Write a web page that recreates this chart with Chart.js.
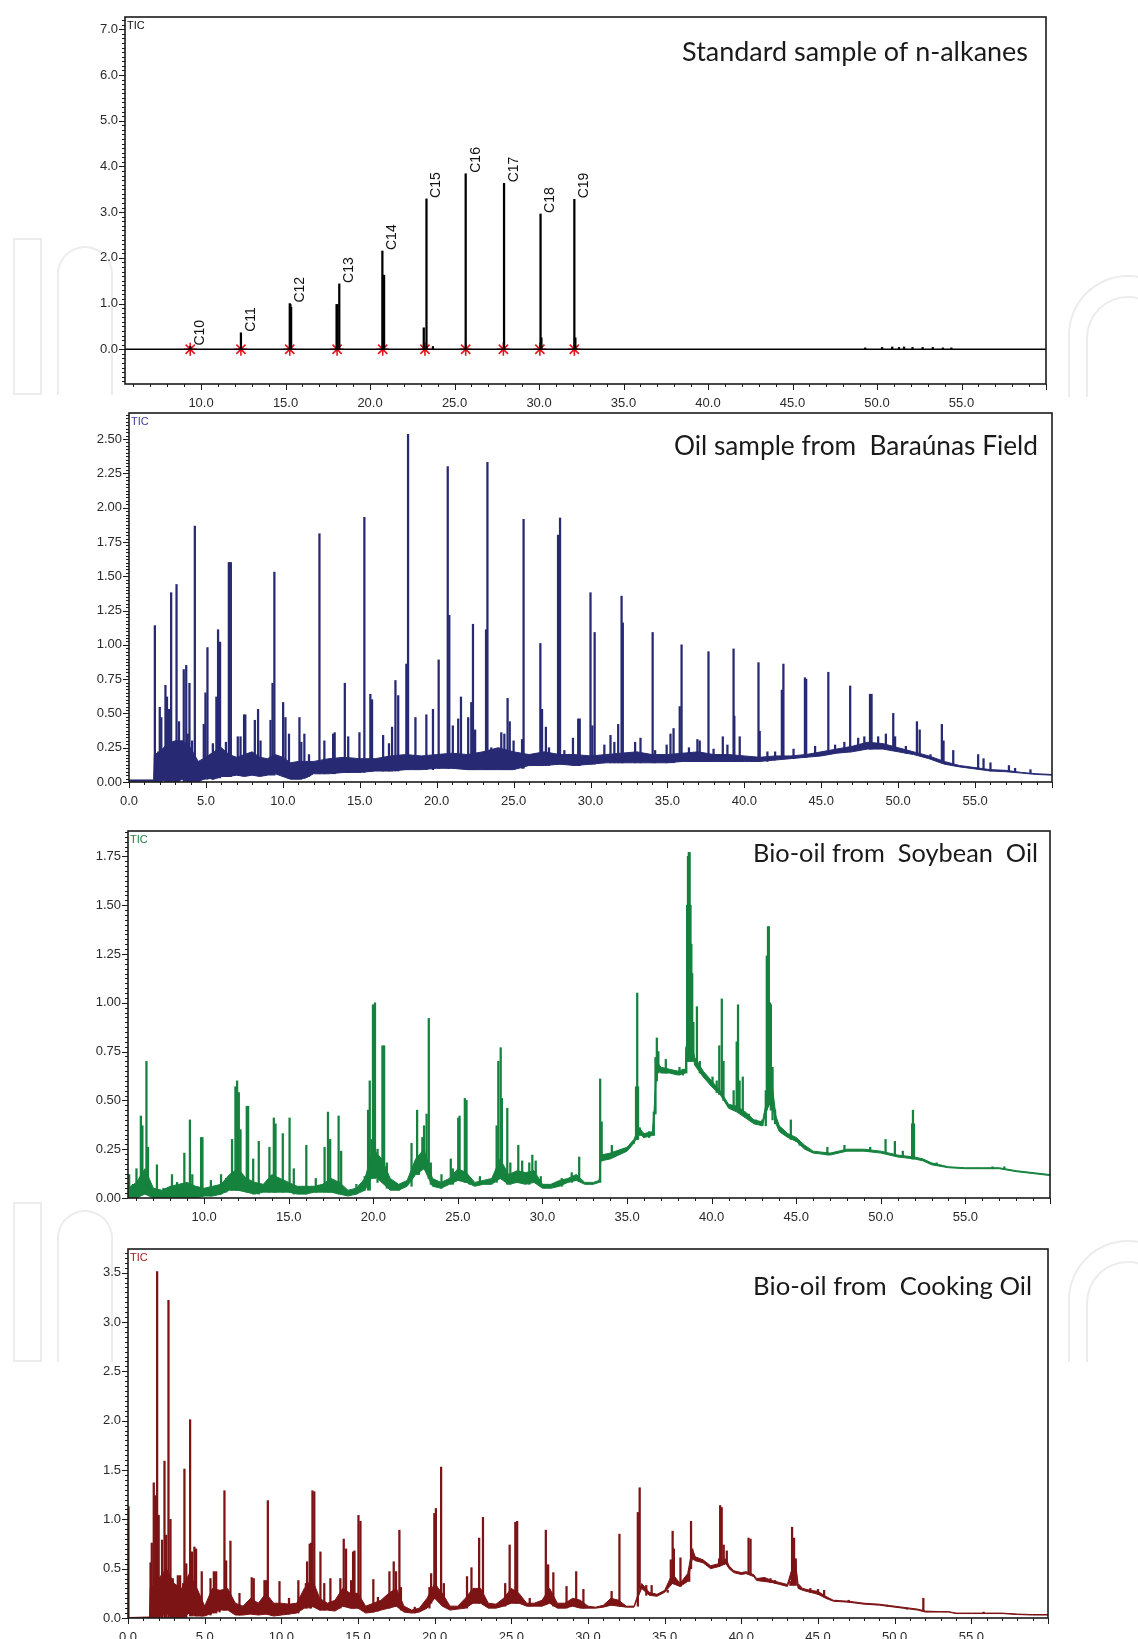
<!DOCTYPE html>
<html>
<head>
<meta charset="utf-8">
<title>TIC chromatograms</title>
<script src="https://cdn.jsdelivr.net/npm/chart.js@4.4.1/dist/chart.umd.min.js"></script>
<style>
  html, body { margin: 0; padding: 0; background: #fff; }
  #page { position: relative; width: 1138px; height: 1639px; overflow: hidden; }
  #page canvas { position: absolute; left: 0; }
  .wm { position: absolute; border: 2px solid #ececec; box-sizing: border-box; }
  .wm.arch { border-bottom: none; }
</style>
</head>
<body>
<div id="page">
  <!-- marca de agua de fondo -->
  <div class="wm" style="left:13px;top:238px;width:29px;height:157px"></div>
  <div class="wm arch" style="left:57px;top:246px;width:56px;height:149px;border-radius:28px 28px 0 0"></div>
  <div class="wm arch" style="left:1068px;top:275px;width:120px;height:122px;border-radius:60px 60px 0 0"></div>
  <div class="wm arch" style="left:1086px;top:296px;width:84px;height:101px;border-radius:42px 42px 0 0"></div>
  <div class="wm" style="left:13px;top:1202px;width:29px;height:160px"></div>
  <div class="wm arch" style="left:57px;top:1210px;width:56px;height:152px;border-radius:28px 28px 0 0"></div>
  <div class="wm arch" style="left:1068px;top:1240px;width:120px;height:122px;border-radius:60px 60px 0 0"></div>
  <div class="wm arch" style="left:1086px;top:1261px;width:84px;height:101px;border-radius:42px 42px 0 0"></div>

  <canvas id="alkanes"></canvas>
  <canvas id="baraunas"></canvas>
  <canvas id="soybean"></canvas>
  <canvas id="cooking"></canvas>
</div>
<script>
// TIC chromatograms (retention time in min, intensity)

// --- Standard sample of n-alkanes ---
const alkaneNames   = ['C10', 'C11', 'C12', 'C13', 'C14', 'C15', 'C16', 'C17', 'C18', 'C19'];
const alkaneTimes   = [9.36, 12.36, 15.25, 18.18, 20.73, 23.34, 25.66, 27.93, 30.09, 32.09];
const alkaneHeights = [0.06, 0.36, 1.0, 1.43, 2.15, 3.29, 3.84, 3.63, 2.96, 3.28];
const alkaneStars   = [9.36, 12.36, 15.25, 18.05, 20.75, 23.25, 25.66, 27.89, 30.05, 32.09];
// [t, top] shoulders and small noise
const alkaneMinor = [[15.29, 0.98], [15.33, 0.92], [18.02, 0.98], [18.07, 0.98], [20.79, 1.62], [20.83, 1.62],
  [23.18, 0.47], [23.72, 0.06], [30.14, 0.25], [32.15, 0.25],
  [49.3, 0.03], [50.3, 0.04], [50.9, 0.05], [51.3, 0.04], [51.6, 0.05], [52.1, 0.04], [52.7, 0.04], [53.3, 0.04], [53.9, 0.03], [54.4, 0.03]];
const alkaneBaseline = [[5.5, 0], [60, 0]];

// --- Oil sample from Baraúnas Field: [t, lower, upper] band and [t, top, foot] peaks ---
const baraunasBand = [
  [0, 0.005, 0.015], [1.6, 0.005, 0.015], [1.65, 0, 0.2], [2.0, 0, 0.22], [2.5, 0.02, 0.28], [3.0, 0, 0.3], [3.5, 0.02, 0.3],
  [4.0, 0, 0.25], [4.5, 0, 0.15], [5.0, 0.03, 0.18], [5.5, 0.02, 0.22], [6.0, 0.04, 0.25], [6.5, 0.04, 0.2], [7.0, 0.05, 0.18],
  [7.5, 0.04, 0.2], [8.0, 0.05, 0.22], [8.5, 0.04, 0.18], [9.0, 0.05, 0.17], [9.5, 0.06, 0.2], [10.0, 0.04, 0.18],
  [10.5, 0.02, 0.14], [11.0, 0.02, 0.15], [11.5, 0.03, 0.15], [12.0, 0.06, 0.15], [13.0, 0.06, 0.17], [14.0, 0.07, 0.18],
  [15.0, 0.07, 0.17], [16.0, 0.08, 0.17], [17.0, 0.08, 0.19], [18.0, 0.09, 0.2], [19.0, 0.09, 0.19], [20.0, 0.1, 0.2],
  [21.0, 0.1, 0.21], [22.0, 0.09, 0.2], [23.0, 0.09, 0.22], [24.0, 0.09, 0.25], [25.0, 0.09, 0.22], [26.0, 0.12, 0.2],
  [27.0, 0.12, 0.22], [28.0, 0.13, 0.2], [29.0, 0.12, 0.2], [30.0, 0.13, 0.19], [31.0, 0.14, 0.2], [32.0, 0.14, 0.21],
  [33.0, 0.14, 0.22], [34.0, 0.14, 0.2], [35.0, 0.14, 0.2], [36.0, 0.15, 0.21], [37.0, 0.15, 0.22], [38.0, 0.15, 0.2],
  [39.0, 0.15, 0.2], [40.0, 0.15, 0.19], [41.0, 0.15, 0.18], [42.0, 0.16, 0.19], [43.0, 0.17, 0.19], [44.0, 0.18, 0.2],
  [45.0, 0.19, 0.22], [46.0, 0.21, 0.24], [47.0, 0.22, 0.26], [48.0, 0.24, 0.29], [49.0, 0.24, 0.28], [50.0, 0.22, 0.25],
  [51.0, 0.2, 0.22], [52.0, 0.17, 0.19], [53.0, 0.13, 0.15], [54.0, 0.11, 0.12], [55.0, 0.095, 0.105], [56.0, 0.08, 0.09],
  [57.0, 0.075, 0.085], [58.0, 0.065, 0.07], [59.0, 0.055, 0.06], [60.0, 0.05, 0.055]
];
const baraunasPeaks = [
  [1.68, 1.14, 0], [1.78, 0.2, 0], [1.9, 0.22, 0], [2.0, 0.545, 0], [2.1, 0.47, 0], [2.37, 0.705, 0], [2.47, 0.62, 0],
  [2.6, 0.53, 0], [2.74, 1.38, 0], [3.09, 1.44, 0], [3.25, 0.44, 0], [3.56, 0.82, 0], [3.72, 0.85, 0], [3.82, 0.35, 0],
  [3.93, 0.72, 0], [4.1, 0.3, 0], [4.28, 1.865, 0], [4.86, 0.42, 0.02], [4.97, 0.65, 0.02], [5.1, 0.98, 0.02],
  [5.45, 0.28, 0.02], [5.68, 0.62, 0.03], [5.79, 1.11, 0.03], [5.92, 1.02, 0.03], [6.3, 0.29, 0.04], [6.49, 1.6, 0.04],
  [6.55, 1.6, 0.04], [6.62, 1.6, 0.04], [7.07, 0.33, 0.05], [7.25, 0.33, 0.05], [7.48, 0.49, 0.05], [7.56, 0.49, 0.05],
  [8.18, 0.45, 0.05], [8.39, 0.53, 0.05], [8.55, 0.3, 0.05], [9.2, 0.45, 0.05], [9.33, 0.72, 0.05], [9.45, 1.53, 0.05],
  [10.02, 0.58, 0.04], [10.17, 0.47, 0.04], [10.4, 0.35, 0.03], [11.08, 0.47, 0.02], [11.2, 0.29, 0.02], [11.4, 0.35, 0.03],
  [11.7, 0.2, 0.04], [12.38, 1.81, 0.06], [12.7, 0.3, 0.06], [13.27, 0.35, 0.06], [13.37, 0.36, 0.06], [14.03, 0.72, 0.07],
  [14.25, 0.33, 0.07], [14.98, 0.36, 0.07], [15.3, 1.93, 0.07], [15.69, 0.64, 0.08], [15.8, 0.6, 0.08], [16.52, 0.34, 0.08],
  [16.9, 0.28, 0.08], [17.1, 0.4, 0.08], [17.32, 0.74, 0.08], [17.5, 0.63, 0.08], [18.03, 0.86, 0.09], [18.14, 2.535, 0.09],
  [18.62, 0.47, 0.09], [19.33, 0.49, 0.09], [19.76, 0.53, 0.09], [20.13, 0.89, 0.1], [20.72, 2.3, 0.1], [20.82, 1.215, 0.1],
  [21.05, 0.41, 0.1], [21.4, 0.46, 0.1], [21.58, 0.62, 0.1], [22.05, 0.47, 0.09], [22.25, 0.58, 0.09], [22.36, 1.15, 0.09],
  [22.5, 0.38, 0.09], [23.21, 1.11, 0.09], [23.3, 2.33, 0.09], [23.55, 0.25, 0.09], [24.2, 0.36, 0.09], [24.4, 0.35, 0.09],
  [24.61, 0.61, 0.09], [24.75, 0.44, 0.09], [25.0, 0.3, 0.1], [25.55, 0.31, 0.1], [25.65, 1.915, 0.1], [26.74, 1.01, 0.12],
  [26.85, 0.53, 0.12], [27.1, 0.4, 0.12], [27.3, 0.25, 0.12], [27.89, 1.8, 0.13], [28.02, 1.925, 0.13], [28.3, 0.23, 0.13],
  [28.86, 0.32, 0.12], [29.2, 0.46, 0.12], [29.3, 0.46, 0.12], [30.0, 1.38, 0.13], [30.12, 0.41, 0.13], [30.27, 1.09, 0.13],
  [30.9, 0.27, 0.14], [31.3, 0.34, 0.14], [31.55, 0.29, 0.14], [31.8, 0.42, 0.14], [32.02, 1.355, 0.14], [32.1, 1.16, 0.14],
  [32.9, 0.29, 0.14], [33.25, 0.32, 0.14], [34.04, 1.09, 0.14], [34.2, 0.23, 0.14], [34.95, 0.27, 0.14], [35.2, 0.35, 0.14],
  [35.4, 0.39, 0.14], [35.8, 0.55, 0.15], [35.92, 1.0, 0.15], [36.4, 0.25, 0.15], [36.95, 0.31, 0.15], [37.1, 0.3, 0.15],
  [37.67, 0.95, 0.15], [38.0, 0.24, 0.15], [38.6, 0.33, 0.15], [38.9, 0.27, 0.15], [39.3, 0.97, 0.15], [39.35, 0.48, 0.15],
  [39.7, 0.33, 0.15], [40.92, 0.87, 0.15], [41.0, 0.37, 0.15], [41.5, 0.22, 0.15], [42.0, 0.22, 0.16], [42.44, 0.67, 0.17],
  [42.54, 0.86, 0.17], [43.2, 0.24, 0.17], [43.94, 0.76, 0.18], [44.02, 0.75, 0.18], [44.6, 0.26, 0.19], [45.46, 0.8, 0.2],
  [45.9, 0.27, 0.21], [46.5, 0.29, 0.22], [46.88, 0.7, 0.22], [47.4, 0.32, 0.23], [47.8, 0.33, 0.24], [48.17, 0.64, 0.24],
  [48.27, 0.64, 0.24], [48.7, 0.33, 0.25], [49.2, 0.35, 0.24], [49.68, 0.5, 0.23], [49.8, 0.33, 0.23], [50.5, 0.26, 0.21],
  [51.22, 0.44, 0.2], [51.4, 0.38, 0.2], [52.1, 0.2, 0.17], [52.84, 0.42, 0.14], [52.95, 0.3, 0.14], [53.58, 0.23, 0.12],
  [55.2, 0.2, 0.095], [55.55, 0.17, 0.09], [56.0, 0.14, 0.08], [57.2, 0.12, 0.075], [57.6, 0.1, 0.07], [58.6, 0.09, 0.06]
];

// --- Bio-oil from Soybean Oil ---
const soyBand = [
  [5.5, 0, 0.05], [6.0, 0, 0.08], [6.5, 0.02, 0.15], [7.0, 0, 0.05], [7.5, 0, 0.04], [8.0, 0, 0.06], [8.5, 0, 0.07],
  [9.0, 0, 0.08], [9.5, 0, 0.06], [10.0, 0.01, 0.05], [10.5, 0.01, 0.06], [11.0, 0.02, 0.07], [11.5, 0.04, 0.12],
  [12.0, 0.04, 0.15], [12.5, 0.03, 0.1], [13.0, 0.02, 0.08], [13.5, 0.03, 0.07], [14.0, 0.03, 0.12], [14.5, 0.03, 0.1],
  [15.0, 0.03, 0.08], [15.5, 0.02, 0.06], [16.0, 0.02, 0.06], [16.5, 0.03, 0.06], [17.0, 0.03, 0.07], [17.5, 0.03, 0.1],
  [18.0, 0.02, 0.08], [18.5, 0.01, 0.04], [19.0, 0.02, 0.05], [19.5, 0.04, 0.1], [20.0, 0.12, 0.25], [20.5, 0.08, 0.2],
  [21.0, 0.04, 0.1], [21.5, 0.04, 0.07], [22.0, 0.06, 0.09], [22.5, 0.12, 0.2], [23.0, 0.15, 0.25], [23.5, 0.06, 0.1],
  [24.0, 0.05, 0.08], [24.5, 0.07, 0.1], [25.0, 0.09, 0.15], [25.5, 0.08, 0.13], [26.0, 0.06, 0.08], [26.5, 0.07, 0.09],
  [27.0, 0.07, 0.1], [27.5, 0.1, 0.2], [28.0, 0.07, 0.12], [28.5, 0.08, 0.14], [29.0, 0.07, 0.13], [29.5, 0.08, 0.14],
  [30.0, 0.05, 0.07], [30.5, 0.05, 0.07], [31.0, 0.06, 0.09], [31.5, 0.08, 0.1], [32.0, 0.09, 0.12], [32.5, 0.07, 0.08],
  [33.0, 0.07, 0.08], [33.35, 0.08, 0.09], [33.45, 0.19, 0.22], [34.0, 0.2, 0.23], [35.0, 0.24, 0.26], [35.4, 0.28, 0.3],
  [35.7, 0.33, 0.36], [36.0, 0.31, 0.33], [36.5, 0.32, 0.34], [36.6, 0.43, 0.45], [36.75, 0.66, 0.7], [37.0, 0.64, 0.67],
  [37.5, 0.64, 0.66], [38.0, 0.63, 0.65], [38.45, 0.64, 0.66], [38.5, 0.75, 0.78], [38.95, 0.7, 0.74], [39.0, 0.68, 0.72],
  [39.5, 0.62, 0.65], [40.0, 0.57, 0.6], [40.5, 0.53, 0.55], [41.0, 0.46, 0.48], [41.5, 0.44, 0.47], [42.0, 0.41, 0.44],
  [42.5, 0.38, 0.4], [43.0, 0.37, 0.39], [43.25, 0.45, 0.5], [43.55, 0.5, 0.6], [43.8, 0.38, 0.42], [44.0, 0.34, 0.37],
  [44.5, 0.31, 0.33], [45.0, 0.29, 0.31], [45.5, 0.25, 0.27], [46.0, 0.23, 0.24], [47.0, 0.22, 0.23], [48.0, 0.24, 0.25],
  [49.0, 0.24, 0.25], [50.0, 0.23, 0.24], [51.0, 0.21, 0.22], [52.0, 0.2, 0.21], [52.5, 0.19, 0.2], [53.0, 0.17, 0.18],
  [54.0, 0.155, 0.16], [55.0, 0.15, 0.155], [56.0, 0.15, 0.155], [57.0, 0.15, 0.155], [58.0, 0.135, 0.14],
  [59.0, 0.125, 0.13], [60.0, 0.115, 0.12]
];
const soyPeaks = [
  [5.57, 0.12, 0], [5.8, 0.07, 0], [6.0, 0.15, 0], [6.26, 0.42, 0.02], [6.35, 0.37, 0.02], [6.59, 0.7, 0.02], [6.68, 0.26, 0.02],
  [7.21, 0.17, 0], [7.6, 0.05, 0], [8.1, 0.12, 0], [8.4, 0.08, 0], [8.83, 0.23, 0], [9.16, 0.4, 0], [9.3, 0.12, 0],
  [9.82, 0.31, 0.01], [9.9, 0.31, 0.01], [10.4, 0.09, 0.01], [11.0, 0.12, 0.02], [11.3, 0.1, 0.03], [11.65, 0.3, 0.04],
  [11.85, 0.57, 0.04], [11.95, 0.6, 0.04], [12.05, 0.54, 0.04], [12.15, 0.35, 0.04], [12.52, 0.47, 0.03], [12.6, 0.47, 0.03],
  [12.9, 0.2, 0.02], [13.23, 0.29, 0.02], [13.86, 0.26, 0.03], [14.12, 0.41, 0.03], [14.22, 0.38, 0.03], [14.65, 0.33, 0.03],
  [15.05, 0.41, 0.03], [15.3, 0.15, 0.02], [16.04, 0.27, 0.02], [16.6, 0.1, 0.03], [17.12, 0.26, 0.03], [17.32, 0.44, 0.03],
  [17.45, 0.3, 0.03], [17.95, 0.42, 0.02], [18.1, 0.24, 0.02], [19.0, 0.07, 0.02], [19.49, 0.11, 0.04], [19.69, 0.45, 0.04],
  [19.79, 0.6, 0.04], [19.9, 0.3, 0.1], [19.98, 0.99, 0.1], [20.1, 1.0, 0.1], [20.25, 0.25, 0.08], [20.54, 0.78, 0.08],
  [20.64, 0.78, 0.08], [20.8, 0.18, 0.05], [21.5, 0.07, 0.04], [22.26, 0.28, 0.06], [22.59, 0.45, 0.12], [22.7, 0.2, 0.12],
  [22.9, 0.31, 0.15], [23.0, 0.37, 0.15], [23.15, 0.43, 0.15], [23.28, 0.92, 0.1], [23.4, 0.18, 0.07], [24.03, 0.12, 0.05],
  [24.58, 0.2, 0.07], [24.7, 0.15, 0.07], [25.02, 0.41, 0.09], [25.1, 0.42, 0.09], [25.41, 0.51, 0.08], [25.51, 0.5, 0.08],
  [25.7, 0.1, 0.07], [26.3, 0.11, 0.07], [27.29, 0.37, 0.08], [27.39, 0.7, 0.1], [27.53, 0.77, 0.1], [27.6, 0.51, 0.1],
  [27.92, 0.46, 0.07], [28.1, 0.18, 0.07], [28.57, 0.27, 0.08], [28.8, 0.19, 0.08], [29.22, 0.18, 0.07], [29.4, 0.22, 0.08],
  [29.6, 0.19, 0.08], [29.9, 0.11, 0.06], [31.14, 0.1, 0.06], [31.73, 0.13, 0.08], [32.17, 0.21, 0.09], [33.41, 0.61, 0.08],
  [33.5, 0.39, 0.19], [33.8, 0.22, 0.2], [34.1, 0.27, 0.21], [35.4, 0.29, 0.28], [35.53, 0.57, 0.3], [35.6, 1.05, 0.3],
  [35.65, 0.57, 0.3], [35.75, 0.36, 0.32], [36.0, 0.33, 0.31], [36.3, 0.34, 0.31], [36.58, 0.44, 0.32], [36.68, 0.72, 0.43],
  [36.76, 0.82, 0.6], [36.85, 0.75, 0.64], [37.29, 0.71, 0.64], [38.1, 0.67, 0.63], [38.3, 0.66, 0.63], [38.5, 0.77, 0.64],
  [38.55, 1.5, 0.7], [38.6, 1.75, 0.7], [38.65, 1.77, 0.7], [38.7, 1.77, 0.7], [38.75, 1.5, 0.7], [38.8, 1.3, 0.7],
  [38.85, 1.15, 0.7], [38.92, 0.9, 0.7], [39.13, 0.98, 0.68], [39.3, 0.7, 0.64], [40.05, 0.62, 0.57], [40.3, 0.6, 0.54],
  [40.45, 0.78, 0.53], [40.6, 1.02, 0.53], [40.7, 0.7, 0.5], [41.3, 0.55, 0.46], [41.48, 0.8, 0.45], [41.56, 0.99, 0.45],
  [41.65, 0.6, 0.44], [41.84, 0.62, 0.43], [42.2, 0.43, 0.41], [42.6, 0.4, 0.38], [43.0, 0.4, 0.37], [43.2, 0.55, 0.37],
  [43.26, 1.24, 0.45], [43.33, 1.39, 0.5], [43.38, 1.39, 0.5], [43.45, 1.0, 0.5], [43.5, 0.99, 0.45], [43.6, 0.67, 0.4],
  [43.75, 0.45, 0.38], [44.68, 0.4, 0.3], [45.0, 0.3, 0.29], [45.2, 0.28, 0.27], [46.84, 0.26, 0.22], [47.85, 0.27, 0.24],
  [49.37, 0.26, 0.24], [50.28, 0.3, 0.23], [50.83, 0.29, 0.22], [51.3, 0.24, 0.21], [51.85, 0.38, 0.2], [51.9, 0.45, 0.2],
  [51.96, 0.38, 0.2], [53.3, 0.18, 0.17], [56.6, 0.16, 0.15], [57.3, 0.16, 0.15]
];

// --- Bio-oil from Cooking Oil ---
const cookingBand = [
  [0, 0, 0.005], [0.1, 0, 0.005], [1.4, 0, 0.01], [1.45, 0, 0.3], [2.0, 0, 0.4], [2.5, 0.05, 0.5], [3.0, 0, 0.35],
  [3.5, 0, 0.3], [4.0, 0.05, 0.45], [4.5, 0.02, 0.3], [5.0, 0.02, 0.12], [5.5, 0.05, 0.3], [6.0, 0.08, 0.28], [6.5, 0.08, 0.3],
  [7.0, 0.03, 0.15], [7.5, 0.03, 0.12], [8.0, 0.04, 0.2], [8.5, 0.03, 0.15], [9.0, 0.04, 0.25], [9.5, 0.02, 0.15],
  [10.0, 0.03, 0.15], [10.5, 0.04, 0.14], [11.0, 0.05, 0.15], [11.5, 0.1, 0.3], [12.0, 0.12, 0.4], [12.5, 0.08, 0.2],
  [13.0, 0.08, 0.15], [13.5, 0.07, 0.18], [14.0, 0.12, 0.3], [14.5, 0.1, 0.25], [15.0, 0.1, 0.25], [15.5, 0.05, 0.12],
  [16.0, 0.06, 0.15], [16.5, 0.08, 0.18], [17.0, 0.1, 0.25], [17.5, 0.12, 0.3], [18.0, 0.06, 0.12], [18.5, 0.05, 0.08],
  [19.0, 0.06, 0.1], [19.5, 0.1, 0.2], [20.0, 0.2, 0.35], [20.5, 0.12, 0.25], [21.0, 0.08, 0.12], [21.5, 0.09, 0.12],
  [22.0, 0.1, 0.2], [22.5, 0.15, 0.3], [23.0, 0.15, 0.3], [23.5, 0.1, 0.15], [24.0, 0.1, 0.14], [24.5, 0.12, 0.2],
  [25.0, 0.15, 0.3], [25.5, 0.15, 0.25], [26.0, 0.12, 0.15], [26.5, 0.12, 0.15], [27.0, 0.12, 0.18], [27.5, 0.15, 0.3],
  [28.0, 0.1, 0.15], [28.5, 0.1, 0.15], [29.0, 0.12, 0.2], [29.5, 0.1, 0.18], [30.0, 0.1, 0.12], [30.5, 0.1, 0.11],
  [31.0, 0.11, 0.13], [31.5, 0.13, 0.2], [32.0, 0.12, 0.18], [32.5, 0.11, 0.12], [33.0, 0.11, 0.12], [33.5, 0.3, 0.35],
  [34.0, 0.23, 0.26], [34.5, 0.22, 0.24], [35.0, 0.26, 0.28], [35.5, 0.35, 0.45], [36.0, 0.32, 0.35], [36.5, 0.37, 0.45],
  [36.8, 0.6, 0.7], [37.0, 0.58, 0.62], [37.5, 0.56, 0.59], [38.0, 0.5, 0.53], [38.5, 0.52, 0.55], [39.0, 0.55, 0.6],
  [39.2, 0.5, 0.53], [39.5, 0.46, 0.48], [40.0, 0.44, 0.46], [40.3, 0.45, 0.47], [40.8, 0.42, 0.44], [41.0, 0.38, 0.4],
  [41.5, 0.37, 0.41], [42.0, 0.36, 0.38], [42.5, 0.34, 0.36], [43.0, 0.32, 0.34], [43.5, 0.5, 0.6], [43.7, 0.3, 0.35],
  [44.0, 0.28, 0.3], [44.5, 0.26, 0.28], [45.0, 0.24, 0.27], [45.5, 0.2, 0.22], [46.0, 0.17, 0.18], [47.0, 0.16, 0.17],
  [48.0, 0.14, 0.15], [49.0, 0.13, 0.14], [50.0, 0.11, 0.12], [51.0, 0.09, 0.1], [51.5, 0.08, 0.09], [52.0, 0.06, 0.07],
  [53.0, 0.06, 0.065], [53.5, 0.06, 0.065], [54.0, 0.045, 0.05], [55.0, 0.045, 0.05], [56.0, 0.045, 0.05],
  [57.0, 0.045, 0.05], [58.0, 0.035, 0.04], [59.0, 0.03, 0.035], [60.0, 0.03, 0.035]
];
const cookingPeaks = [
  [0.03, 1.13, 0], [1.47, 0.56, 0], [1.55, 0.76, 0], [1.68, 1.37, 0], [1.78, 1.24, 0], [1.9, 3.51, 0], [2.0, 1.04, 0],
  [2.22, 0.79, 0], [2.38, 1.59, 0], [2.49, 0.84, 0], [2.64, 3.22, 0], [2.77, 1.0, 0], [2.92, 0.4, 0], [3.25, 0.43, 0],
  [3.4, 0.43, 0], [3.6, 0.35, 0], [3.68, 1.51, 0], [3.8, 0.55, 0], [4.05, 2.01, 0.02], [4.18, 0.67, 0.02], [4.33, 0.72, 0.02],
  [4.44, 0.7, 0.02], [4.81, 0.47, 0.02], [5.38, 0.4, 0.03], [5.6, 0.47, 0.05], [5.75, 0.47, 0.05], [5.97, 0.28, 0.06],
  [6.29, 1.29, 0.08], [6.4, 0.58, 0.08], [6.68, 0.78, 0.08], [7.27, 0.25, 0.03], [8.07, 0.41, 0.04], [8.2, 0.4, 0.04],
  [8.9, 0.38, 0.04], [9.0, 0.38, 0.04], [9.12, 1.19, 0.04], [9.88, 0.37, 0.03], [10.5, 0.2, 0.04], [11.11, 0.38, 0.05],
  [11.6, 0.35, 0.1], [11.68, 0.57, 0.1], [11.85, 0.75, 0.1], [11.94, 0.76, 0.1], [12.03, 1.29, 0.12], [12.15, 1.28, 0.12],
  [12.55, 0.67, 0.08], [12.8, 0.35, 0.08], [13.2, 0.4, 0.08], [13.85, 0.4, 0.1], [14.07, 0.8, 0.12], [14.22, 0.7, 0.12],
  [14.55, 0.38, 0.1], [14.68, 0.67, 0.1], [14.77, 0.68, 0.1], [15.03, 1.04, 0.1], [15.16, 0.98, 0.1], [16.0, 0.39, 0.06],
  [16.3, 0.21, 0.07], [17.05, 0.47, 0.1], [17.33, 0.57, 0.12], [17.48, 0.47, 0.12], [17.7, 0.89, 0.12], [17.8, 0.31, 0.08],
  [18.7, 0.11, 0.05], [19.66, 0.31, 0.1], [19.77, 0.45, 0.15], [19.98, 1.06, 0.2], [20.08, 1.11, 0.2], [20.42, 1.53, 0.15],
  [20.6, 0.35, 0.12], [22.11, 0.42, 0.1], [22.4, 0.51, 0.15], [22.9, 0.81, 0.15], [23.15, 1.02, 0.15], [24.6, 0.35, 0.12],
  [24.89, 0.74, 0.15], [25.26, 0.97, 0.15], [25.38, 0.98, 0.15], [26.2, 0.2, 0.12], [27.25, 0.89, 0.15], [27.4, 0.54, 0.15],
  [27.74, 0.46, 0.12], [28.6, 0.32, 0.1], [29.23, 0.47, 0.12], [29.7, 0.29, 0.1], [31.54, 0.27, 0.13], [32.05, 0.85, 0.12],
  [33.25, 1.07, 0.12], [33.37, 1.32, 0.3], [33.8, 0.33, 0.23], [34.15, 0.33, 0.23], [35.2, 0.28, 0.26], [35.4, 0.59, 0.35],
  [35.52, 0.88, 0.35], [35.6, 0.7, 0.35], [36.03, 0.61, 0.32], [36.6, 0.5, 0.37], [36.72, 0.98, 0.5], [36.8, 0.7, 0.6],
  [38.55, 0.6, 0.52], [38.62, 1.14, 0.55], [38.72, 1.12, 0.55], [38.85, 0.74, 0.55], [39.05, 0.68, 0.55], [40.47, 0.81, 0.45],
  [40.6, 0.8, 0.45], [41.5, 0.41, 0.37], [41.9, 0.4, 0.36], [42.2, 0.38, 0.35], [43.2, 0.37, 0.33], [43.31, 0.92, 0.33],
  [43.44, 0.81, 0.33], [43.55, 0.6, 0.33], [44.5, 0.3, 0.26], [45.0, 0.29, 0.24], [45.4, 0.28, 0.22], [46.2, 0.18, 0.17],
  [47.0, 0.18, 0.16], [49.5, 0.13, 0.12], [50.8, 0.1, 0.09], [51.87, 0.2, 0.07], [55.8, 0.06, 0.045]
];

// ---------------------------------------------------------------------------

const TICK_FONT = '"Liberation Sans", Arial, sans-serif';
const PAD_TOP = 16;
const AXIS_H = 40;

// marcos, marcas de eje, títulos y etiquetas
const decoPlugin = {
    id: 'deco',
    afterDraw(chart, args, o) {
        const { ctx, chartArea: a, scales: { x, y } } = chart;
        ctx.save();
        ctx.strokeStyle = '#1b1b1b';
        ctx.lineWidth = 1;
        drawTicks(ctx, y, o.yMinor, o.yMajor, false, a);
        drawTicks(ctx, x, 1, 5, true, a);
        ctx.lineWidth = 1.6;
        ctx.strokeRect(a.left, a.top, a.right - a.left, a.bottom - a.top);

        ctx.font = '11px ' + TICK_FONT;
        ctx.fillStyle = o.ticColor;
        ctx.textAlign = 'left';
        ctx.textBaseline = 'top';
        ctx.fillText('TIC', a.left + 2, a.top + 3);

        // título ajustado al ancho de la figura original
        let size = 24;
        ctx.font = size + 'px Lato, "Open Sans", sans-serif';
        size = size * o.titleWidth / ctx.measureText(o.title).width;
        ctx.font = size.toFixed(2) + 'px Lato, "Open Sans", sans-serif';
        ctx.fillStyle = '#1a1a1a';
        ctx.textAlign = 'right';
        ctx.textBaseline = 'middle';
        ctx.fillText(o.title, a.right - o.titleRight, a.top + o.titleY);

        if (o.peakLabels) {
            const pl = o.peakLabels;
            ctx.font = '14px ' + TICK_FONT;
            ctx.fillStyle = '#111';
            ctx.textAlign = 'left';
            ctx.textBaseline = 'top';
            pl.names.forEach((name, i) => {
                const px = x.getPixelForValue(pl.times[i]) + 3;
                const py = y.getPixelForValue(pl.heights[i]) - 1;
                ctx.save();
                ctx.translate(px, py);
                ctx.rotate(-Math.PI / 2);
                ctx.fillText(name, 0, 0);
                ctx.restore();
            });
        }
        ctx.restore();
    }
};

function drawTicks(ctx, scale, minor, major, horizontal, a) {
    const n0 = Math.ceil(scale.min / minor - 1e-6);
    const n1 = Math.floor(scale.max / minor + 1e-6);
    const ratio = Math.round(major / minor);
    ctx.beginPath();
    for (let k = n0; k <= n1; k++) {
        const len = k % ratio === 0 ? 6 : 3;
        const p = Math.round(scale.getPixelForValue(k * minor)) + 0.5;
        if (horizontal) {
            ctx.moveTo(p, a.bottom);
            ctx.lineTo(p, a.bottom + len);
        } else {
            ctx.moveTo(a.left, p);
            ctx.lineTo(a.left - len, p);
        }
    }
    ctx.stroke();
}

const toPoints = (arr, k) => arr.map(r => ({ x: r[0], y: r[k] }));

function bandSets(band, color) {
    return [
        { type: 'line', data: toPoints(band, 1), borderColor: color, borderWidth: 1, pointRadius: 0, fill: false },
        { type: 'line', data: toPoints(band, 2), borderColor: color, borderWidth: 1, pointRadius: 0, fill: '-1', backgroundColor: color }
    ];
}

function peakSet(peaks, color) {
    return {
        type: 'bar',
        data: peaks.map(p => ({ x: p[0], y: [p[2], p[1]] })),
        backgroundColor: color,
        barThickness: 1.6,
        grouped: false,
        borderWidth: 0
    };
}

function makePanel(cfg, datasets) {
    const canvas = document.getElementById(cfg.id);
    const h = cfg.bottom - cfg.top + PAD_TOP + AXIS_H;
    canvas.width = 1138;
    canvas.height = h;
    canvas.style.top = (cfg.top - PAD_TOP) + 'px';

    new Chart(canvas, {
        type: 'line',
        data: { datasets },
        options: {
            responsive: false,
            animation: false,
            events: [],
            layout: { padding: { top: PAD_TOP, right: 1138 - cfg.right, left: 0, bottom: 0 } },
            plugins: {
                legend: { display: false },
                tooltip: { enabled: false },
                deco: cfg.deco
            },
            scales: {
                x: {
                    type: 'linear',
                    min: cfg.xMin,
                    max: cfg.xMax,
                    offset: false,
                    grid: { display: false, drawTicks: false },
                    border: { display: false },
                    afterFit: s => { s.height = AXIS_H; },
                    ticks: {
                        stepSize: 5,
                        includeBounds: false,
                        autoSkip: false,
                        maxRotation: 0,
                        padding: 12,
                        color: '#2a2a2a',
                        font: { family: TICK_FONT, size: 13 },
                        callback: v => (v > 59 ? '' : Number(v).toFixed(1))
                    }
                },
                y: {
                    type: 'linear',
                    min: cfg.yMin,
                    max: cfg.yMax,
                    grid: { display: false, drawTicks: false },
                    border: { display: false },
                    afterFit: s => { s.width = cfg.left; },
                    ticks: {
                        stepSize: cfg.yStep,
                        includeBounds: false,
                        autoSkip: false,
                        padding: 7,
                        color: '#2a2a2a',
                        font: { family: TICK_FONT, size: 13 },
                        callback: v => Number(v).toFixed(cfg.yDigits)
                    }
                }
            }
        },
        plugins: [decoPlugin]
    });
}

// Panel 1: patrón de n-alcanos
makePanel({
    id: 'alkanes', top: 17, bottom: 384, left: 125, right: 1046,
    xMin: 5.5, xMax: 60, yMin: -0.76, yMax: 7.27, yStep: 1, yDigits: 1,
    deco: {
        yMinor: 0.1, yMajor: 1, ticColor: '#111',
        title: 'Standard sample of n-alkanes', titleWidth: 346, titleRight: 18, titleY: 35,
        peakLabels: { names: alkaneNames, times: alkaneTimes, heights: alkaneHeights }
    }
}, [
    { type: 'line', data: toPoints(alkaneBaseline, 1), borderColor: '#000', borderWidth: 1.5, pointRadius: 0, fill: false },
    peakSet(alkaneTimes.map((t, i) => [t, alkaneHeights[i], 0]).concat(alkaneMinor.map(m => [m[0], m[1], 0])), '#000'),
    {
        type: 'line', showLine: false,
        data: alkaneStars.map(t => ({ x: t, y: 0 })),
        pointStyle: 'star', pointRadius: 6.5, borderColor: '#e3151c', pointBorderWidth: 1.6, backgroundColor: '#e3151c'
    }
]);

// Panel 2: petróleo del campo Baraúnas
makePanel({
    id: 'baraunas', top: 413, bottom: 782, left: 129, right: 1052,
    xMin: 0, xMax: 60, yMin: 0, yMax: 2.69, yStep: 0.25, yDigits: 2,
    deco: {
        yMinor: 0.025, yMajor: 0.25, ticColor: '#3b3f9c',
        title: 'Oil sample from  Baraúnas Field', titleWidth: 364, titleRight: 14, titleY: 34
    }
}, bandSets(baraunasBand, '#272a73').concat([peakSet(baraunasPeaks, '#272a73')]));

// Panel 3: bio-aceite de soja
makePanel({
    id: 'soybean', top: 831, bottom: 1198, left: 128, right: 1050,
    xMin: 5.5, xMax: 60, yMin: 0, yMax: 1.88, yStep: 0.25, yDigits: 2,
    deco: {
        yMinor: 0.025, yMajor: 0.25, ticColor: '#17843f',
        title: 'Bio-oil from  Soybean  Oil', titleWidth: 285, titleRight: 12, titleY: 23
    }
}, bandSets(soyBand, '#15823e').concat([peakSet(soyPeaks, '#15823e')]));

// Panel 4: bio-aceite de aceite de cocina
makePanel({
    id: 'cooking', top: 1249, bottom: 1618, left: 128, right: 1048,
    xMin: 0, xMax: 60, yMin: 0, yMax: 3.74, yStep: 0.5, yDigits: 1,
    deco: {
        yMinor: 0.05, yMajor: 0.5, ticColor: '#a3191c',
        title: 'Bio-oil from  Cooking Oil', titleWidth: 279, titleRight: 16, titleY: 38
    }
}, bandSets(cookingBand, '#7c1315').concat([peakSet(cookingPeaks, '#7c1315')]));
</script>
</body>
</html>
